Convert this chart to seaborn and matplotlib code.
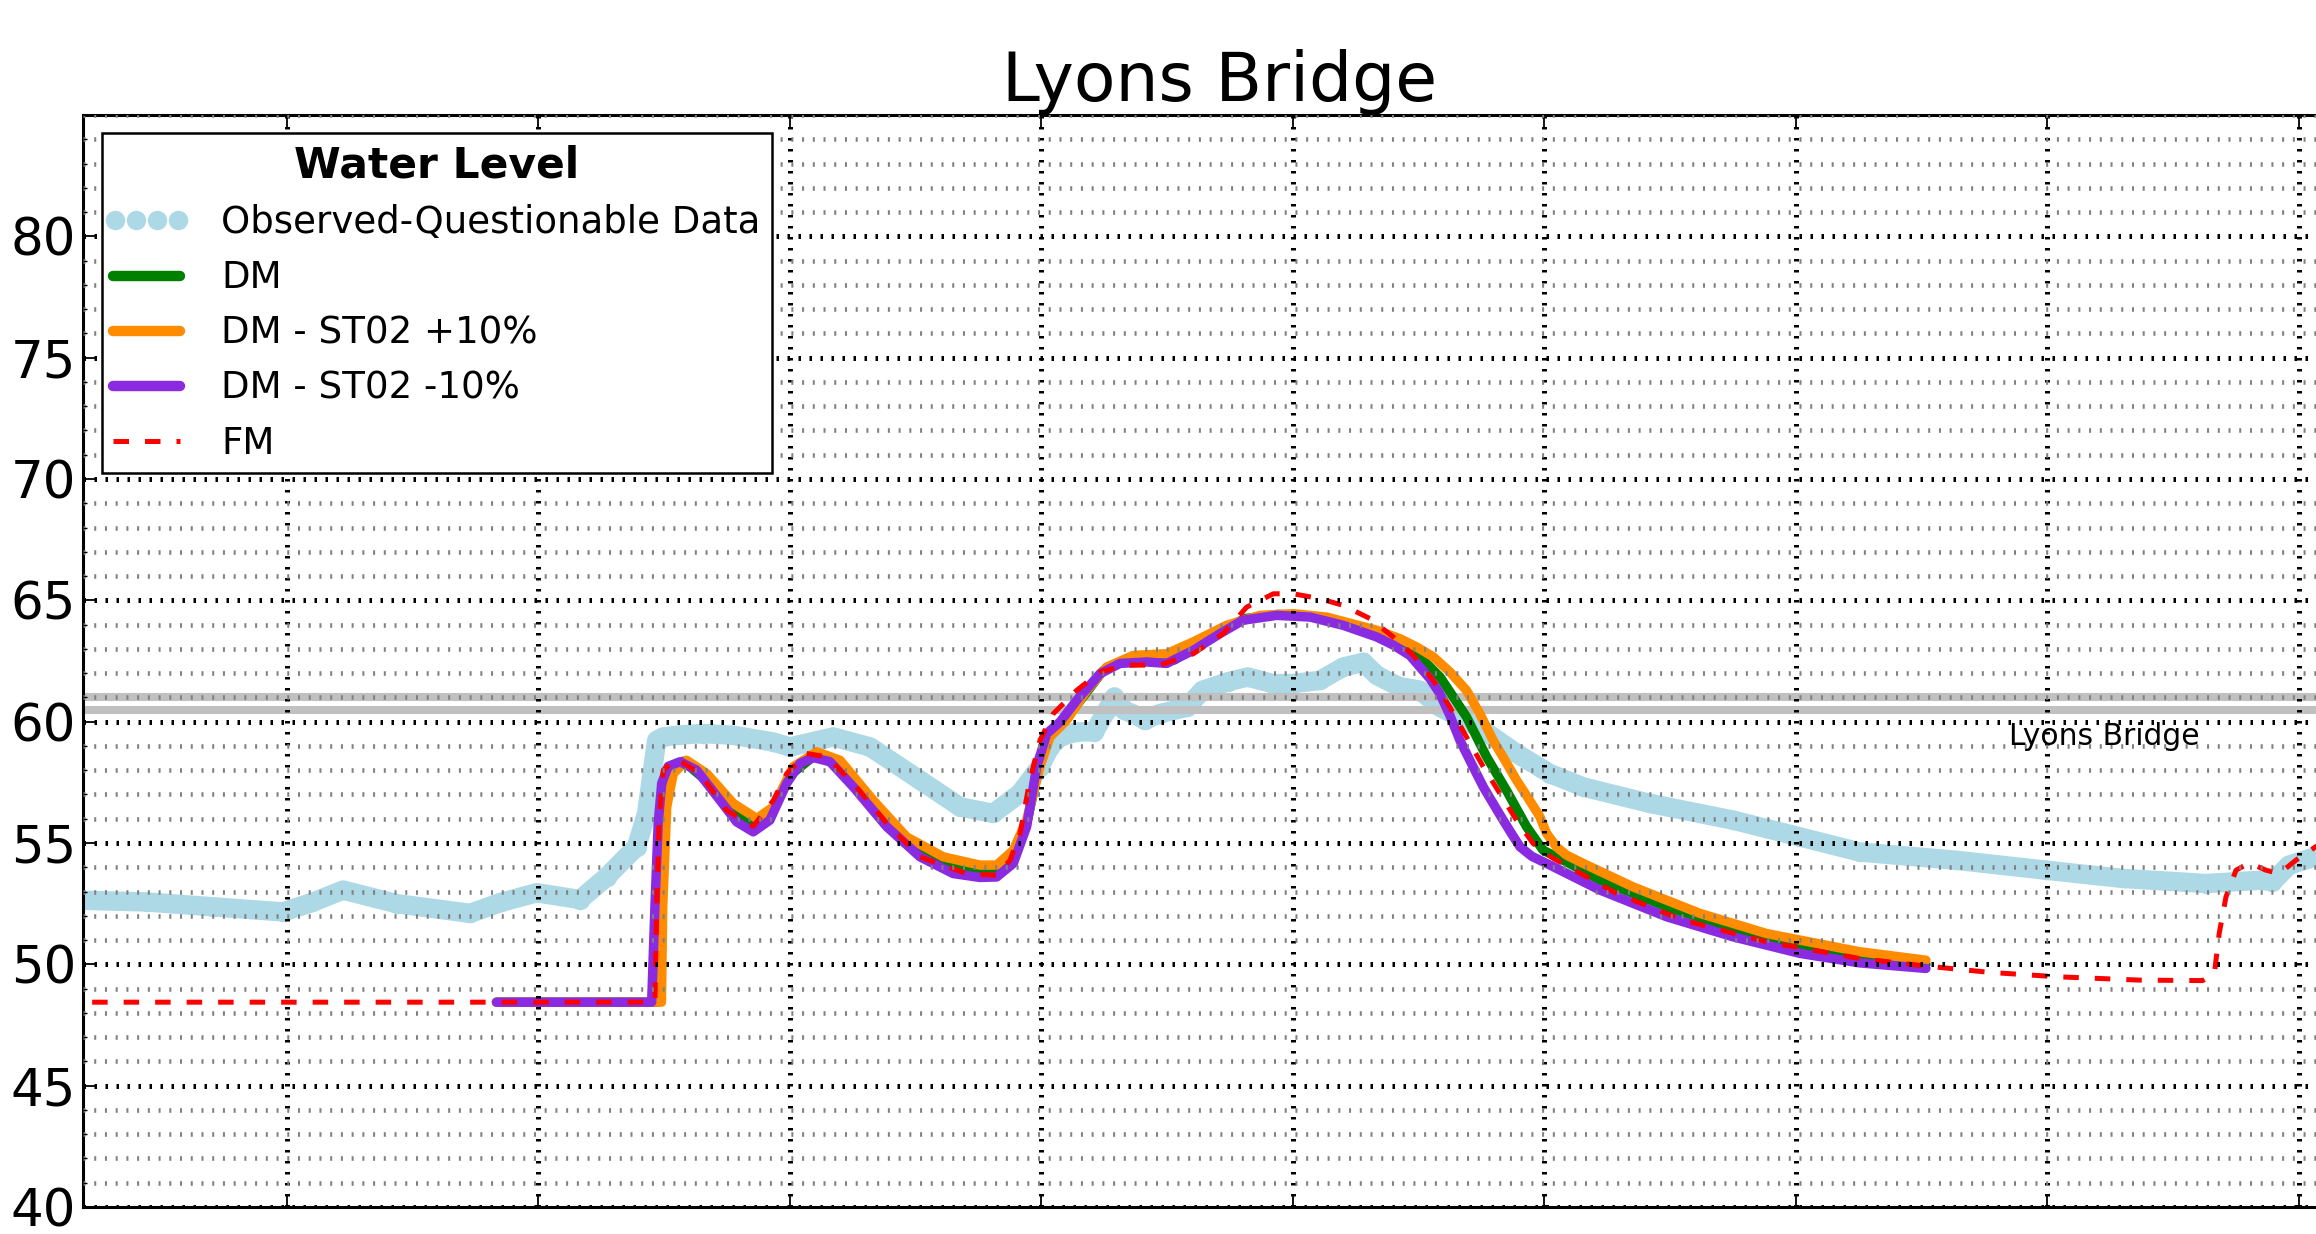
import matplotlib
matplotlib.use("Agg")
import matplotlib.pyplot as plt
from matplotlib.lines import Line2D
from matplotlib.legend_handler import HandlerLine2D
from matplotlib.ticker import MultipleLocator, NullFormatter
import seaborn as sns

# ---- data (time in days, water level) ----
station = "Lyons Bridge"
legend_title = "Water Level"
series_labels = ["Observed-Questionable Data", "DM", "DM - ST02 +10%",
                 "DM - ST02 -10%", "FM"]

obs_t = [0.10, 0.189, 0.442, 0.706, 0.984, 1.10, 1.223, 1.436, 1.728, 1.85,
         1.993, 2.165, 2.271, 2.390, 2.430, 2.470, 2.496, 2.560, 2.655, 2.775,
         2.934, 3.000, 3.172, 3.318, 3.517, 3.676, 3.808, 3.915, 3.994, 4.034,
         4.074, 4.140, 4.210, 4.260, 4.290, 4.330, 4.390, 4.410, 4.470, 4.580,
         4.640, 4.740, 4.820, 4.920, 5.000, 5.107, 5.200, 5.280, 5.333, 5.420,
         5.504, 5.585, 5.757, 5.889, 6.022, 6.154, 6.420, 6.751, 7.016, 7.253,
         7.636, 7.994, 8.299, 8.630, 8.856, 8.895, 8.961, 9.066, 9.150]
obs_wl = [52.70, 52.64, 52.57, 52.37, 52.16, 52.55, 53.06, 52.50, 52.10, 52.55,
          52.95, 52.67, 53.60, 54.85, 56.22, 59.23, 59.37, 59.45, 59.51, 59.44,
          59.16, 58.96, 59.37, 58.96, 57.59, 56.49, 56.22, 57.05, 58.14, 58.96,
          59.37, 59.58, 59.58, 60.47, 61.02, 60.47, 60.20, 60.06, 60.33, 60.60,
          61.29, 61.64, 61.84, 61.57, 61.57, 61.70, 62.25, 62.45, 61.91, 61.45,
          61.30, 60.60, 59.65, 58.69, 57.86, 57.31, 56.63, 55.94, 55.25, 54.63,
          54.29, 53.88, 53.54, 53.33, 53.47, 53.40, 54.09, 54.43, 55.30]

dm_t = [1.833, 2.468, 2.476, 2.488, 2.500, 2.576, 2.680, 2.790, 2.861, 2.930,
        3.000, 3.100, 3.190, 3.330, 3.460, 3.610, 3.755, 3.822, 3.888, 3.941,
        3.990, 4.030, 4.090, 4.160, 4.245, 4.330, 4.450, 4.530, 4.610, 4.720,
        4.810, 4.940, 5.070, 5.200, 5.333, 5.425, 5.479, 5.585, 5.690, 5.770,
        5.849, 5.929, 5.995, 6.088, 6.221, 6.486, 6.751, 7.016, 7.253, 7.517]
dm_wl = [48.44, 48.44, 52.00, 56.00, 57.59, 58.37, 57.46, 56.14, 55.69, 56.29,
         57.79, 58.62, 58.20, 56.49, 55.05, 54.09, 53.81, 53.81, 54.40, 55.80,
         58.10, 59.45, 60.00, 60.95, 62.10, 62.55, 62.60, 62.55, 63.10, 63.80,
         64.25, 64.42, 64.35, 64.00, 63.60, 63.25, 62.94, 61.84, 60.20, 58.55,
         57.17, 55.67, 54.70, 54.22, 53.47, 52.37, 51.48, 50.79, 50.31, 50.00]

hi_t = [1.833, 2.489, 2.494, 2.510, 2.536, 2.589, 2.669, 2.775, 2.868, 2.934,
        3.013, 3.106, 3.199, 3.331, 3.464, 3.610, 3.755, 3.822, 3.888, 3.941,
        3.994, 4.034, 4.100, 4.180, 4.259, 4.365, 4.498, 4.604, 4.736, 4.869,
        5.001, 5.134, 5.333, 5.425, 5.492, 5.558, 5.624, 5.690, 5.743, 5.796,
        5.843, 5.889, 5.936, 5.982, 6.009, 6.048, 6.088, 6.154, 6.353, 6.618,
        6.883, 7.253, 7.517]
hi_wl = [48.44, 48.44, 52.37, 56.49, 57.86, 58.41, 57.86, 56.63, 56.01, 56.49,
         58.14, 58.76, 58.41, 56.76, 55.25, 54.43, 54.09, 54.09, 54.70, 55.94,
         58.14, 59.37, 60.06, 61.29, 62.25, 62.73, 62.80, 63.29, 63.97, 64.38,
         64.45, 64.31, 63.77, 63.42, 63.08, 62.67, 62.05, 61.29, 60.33, 59.23,
         58.41, 57.59, 56.84, 56.08, 55.39, 54.84, 54.50, 54.16, 53.19, 52.10,
         51.27, 50.52, 50.17]

lo_t = [1.833, 2.450, 2.463, 2.476, 2.490, 2.516, 2.563, 2.629, 2.722, 2.788,
        2.854, 2.920, 2.987, 3.040, 3.093, 3.159, 3.252, 3.385, 3.517, 3.649,
        3.755, 3.822, 3.888, 3.941, 3.981, 4.021, 4.074, 4.140, 4.233, 4.312,
        4.418, 4.498, 4.604, 4.710, 4.802, 4.935, 5.068, 5.200, 5.333, 5.400,
        5.465, 5.505, 5.545, 5.584, 5.624, 5.664, 5.710, 5.757, 5.796, 5.836,
        5.869, 5.903, 5.950, 6.022, 6.221, 6.486, 6.751, 7.016, 7.253, 7.517]
lo_wl = [48.44, 48.44, 52.37, 55.81, 57.46, 58.16, 58.35, 58.00, 56.76, 55.87,
         55.46, 55.94, 57.46, 58.28, 58.52, 58.35, 57.31, 55.67, 54.43, 53.74,
         53.58, 53.60, 54.16, 55.67, 58.14, 59.51, 59.99, 60.88, 61.98, 62.40,
         62.46, 62.40, 62.94, 63.63, 64.18, 64.38, 64.31, 63.97, 63.49, 63.15,
         62.73, 62.25, 61.77, 61.16, 60.26, 59.23, 58.27, 57.31, 56.63, 55.94,
         55.39, 54.84, 54.45, 54.09, 53.06, 51.96, 51.13, 50.45, 50.06, 49.83]

fm_t = [0.10, 2.463, 2.470, 2.480, 2.496, 2.549, 2.642, 2.748, 2.854, 2.934,
        2.987, 3.066, 3.146, 3.252, 3.385, 3.517, 3.702, 3.822, 3.875, 3.915,
        3.954, 3.994, 4.047, 4.140, 4.233, 4.339, 4.471, 4.604, 4.723, 4.816,
        4.922, 5.001, 5.107, 5.200, 5.306, 5.399, 5.479, 5.558, 5.624, 5.690,
        5.757, 5.823, 5.889, 5.955, 6.035, 6.287, 6.552, 6.883, 7.253, 7.517,
        7.769, 8.034, 8.365, 8.617, 8.664, 8.683, 8.710, 8.750, 8.803, 8.869,
        8.922, 8.988, 9.066, 9.150]
fm_wl = [48.44, 48.44, 52.40, 56.00, 58.00, 58.48, 57.86, 56.35, 55.69, 56.76,
         57.86, 58.69, 58.55, 57.46, 55.81, 54.43, 53.74, 53.67, 54.29, 55.39,
         57.59, 59.23, 60.33, 61.29, 62.05, 62.33, 62.33, 62.80, 63.63, 64.72,
         65.27, 65.27, 65.07, 64.79, 64.25, 63.49, 62.73, 61.70, 60.60, 59.37,
         58.14, 57.04, 55.94, 54.98, 54.37, 52.92, 51.82, 50.93, 50.24, 49.93,
         49.67, 49.49, 49.35, 49.33, 49.63, 51.27, 52.78, 53.88, 54.18, 53.88,
         53.74, 54.29, 54.84, 55.40]

stage_levels = [61.0, 60.5]
station_label_pos = (7.847, 60.0)
y_ticks = [40, 45, 50, 55, 60, 65, 70, 75, 80]
x_range = (0.1889, 9.231)
y_range = (40, 85)

# ---- style ----
sns.set_theme(style="white")
plt.rcParams["font.family"] = ["DejaVu Sans"]
plt.rcParams.update({"text.color": "black", "axes.labelcolor": "black",
                     "xtick.color": "black", "ytick.color": "black"})

colors = {"obs": "lightblue", "dm": "green", "hi": "darkorange",
          "lo": "blueviolet", "fm": "red"}
model_lw = 6.8
fm_dash = (0, (3.1, 3.2))

fig = plt.figure(figsize=(23.16, 12.34), dpi=100)
ax = fig.add_axes([83 / 2316, 27 / 1234, 2274 / 2316, 1092 / 1234])


def draw(t, wl, **style):
    """Draw one series with seaborn, then pin its line style."""
    n = len(ax.lines)
    sns.lineplot(x=t, y=wl, ax=ax, estimator=None, sort=False,
                 legend=False, errorbar=None, color=style["color"])
    line = ax.lines[n]
    line.set(**style)
    return line


# observed record drawn as a fat chain of dots
draw(obs_t, obs_wl, color=colors["obs"], linewidth=14, linestyle="-",
     marker="o", markersize=14, markeredgewidth=0,
     markerfacecolor=colors["obs"], solid_capstyle="round")

for lvl in stage_levels:
    ax.axhline(lvl, color="#c0c0c0", linewidth=5.8)

draw(dm_t, dm_wl, color=colors["dm"], linewidth=model_lw, linestyle="-", marker="")
draw(hi_t, hi_wl, color=colors["hi"], linewidth=model_lw, linestyle="-", marker="")
draw(lo_t, lo_wl, color=colors["lo"], linewidth=model_lw, linestyle="-", marker="")
draw(fm_t, fm_wl, color=colors["fm"], linewidth=3.6, linestyle=fm_dash, marker="")

ax.text(*station_label_pos, station, fontsize=21.4, va="top", ha="left",
        color="black")

# ---- axes, ticks, grid ----
ax.set_xlim(*x_range)
ax.set_ylim(*y_range)
ax.xaxis.set_major_locator(MultipleLocator(1))
ax.xaxis.set_major_formatter(NullFormatter())
ax.set_yticks(y_ticks)
ax.yaxis.set_minor_locator(MultipleLocator(1))
ax.set_axisbelow(False)

ax.grid(which="major", axis="both", color="black",
        linestyle=(0, (0.5, 1.7)), linewidth=3.6)
ax.grid(which="minor", axis="y", color="0.5",
        linestyle=(0, (0.44, 1.9)), linewidth=3.3)

ax.tick_params(which="major", direction="in", length=8.5, width=1.3,
               top=True, right=True, bottom=True, left=True,
               labelsize=37, pad=5, colors="black")
ax.tick_params(which="minor", direction="in", length=3, width=1.0,
               left=True, right=True, colors="black")
for sp in ax.spines.values():
    sp.set_linewidth(2.2)
    sp.set_color("black")

ax.set_title(station, fontsize=49, pad=9, color="black")

# ---- legend ----
handles = [
    Line2D([], [], linestyle="none", marker="o", markersize=14,
           color=colors["obs"], markeredgewidth=0),
    Line2D([], [], color=colors["dm"], linewidth=7.5),
    Line2D([], [], color=colors["hi"], linewidth=7.5),
    Line2D([], [], color=colors["lo"], linewidth=7.5),
    Line2D([], [], color=colors["fm"], linewidth=3.6, linestyle=fm_dash),
]
leg = ax.legend(handles, series_labels, loc="upper left",
                bbox_to_anchor=(0.00836, 0.9835), borderaxespad=0,
                fontsize=26.7, title=legend_title,
                title_fontproperties={"weight": "bold", "size": 30.5},
                handlelength=1.8, handletextpad=1.12, labelspacing=0.49,
                borderpad=0.3, fancybox=False, framealpha=1,
                edgecolor="black", facecolor="white", labelcolor="black",
                handler_map={handles[0]: HandlerLine2D(numpoints=4, marker_pad=0.05)})
leg.get_title().set_color("black")
leg.get_frame().set_linewidth(1.8)

fig.savefig("out.png", dpi=100)
